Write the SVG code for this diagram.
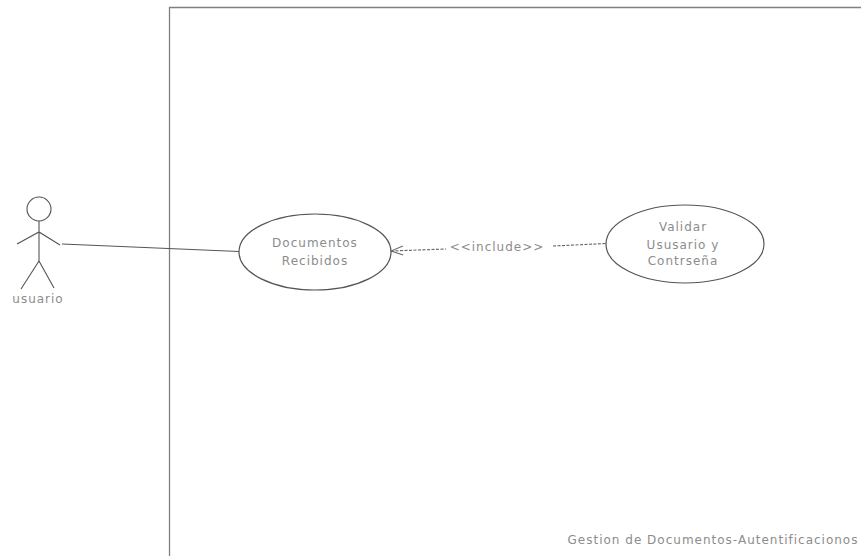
<svg xmlns="http://www.w3.org/2000/svg" width="861" height="556" viewBox="0 0 861 556">
<defs>
<style>
.l{fill:none;stroke:#555;stroke-width:1.1}
.d{fill:none;stroke:#666;stroke-width:1.1;stroke-dasharray:3 1.500}
.u{fill:#fff;stroke:#555;stroke-width:1.2}
.t{font-family:"DejaVu Sans",sans-serif;font-size:12px;fill:#8c8c8c;text-anchor:middle;letter-spacing:1px}
</style>
<marker id="open" markerWidth="16" markerHeight="12" refX="1" refY="6" orient="auto" markerUnits="userSpaceOnUse"><path d="M13 1.500L1 6L13 10.500" fill="none" stroke="#666" stroke-width="1"/></marker>
</defs>
<rect width="861" height="556" fill="#fff"/>
<g id="system"><path d="M169.500 556V7.500H861" fill="none" stroke="#808080" stroke-width="1.300"/>
<text class="t" x="713" y="544">Gestion de Documentos-Autentificacionos</text></g>
<g id="connectors">
<path class="l" d="M62 244L239 251.500"/>
<path class="d" d="M391 251L446 249" marker-start="url(#open)"/>
<path class="d" d="M553 246L606 243.500"/>
<text class="t" x="497" y="251">&lt;&lt;include&gt;&gt;</text>
</g>
<g id="actor-usuario">
<circle class="l" cx="39" cy="209" r="12"/>
<path class="l" d="M39 221V261M17 244L39 232L60 245M39 261L21 289M39 261L54 288"/>
<text class="t" x="38" y="303">usuario</text>
</g>
<g id="usecase-documentos">
<ellipse class="u" cx="315" cy="252" rx="76" ry="38"/>
<text class="t" x="315" y="247">Documentos</text>
<text class="t" x="315" y="265">Recibidos</text>
</g>
<g id="usecase-validar">
<ellipse class="u" cx="685" cy="244" rx="79" ry="39"/>
<text class="t" x="683" y="231">Validar</text>
<text class="t" x="683" y="249">Ususario y</text>
<text class="t" x="683" y="265">Contrseña</text>
</g>
</svg>
